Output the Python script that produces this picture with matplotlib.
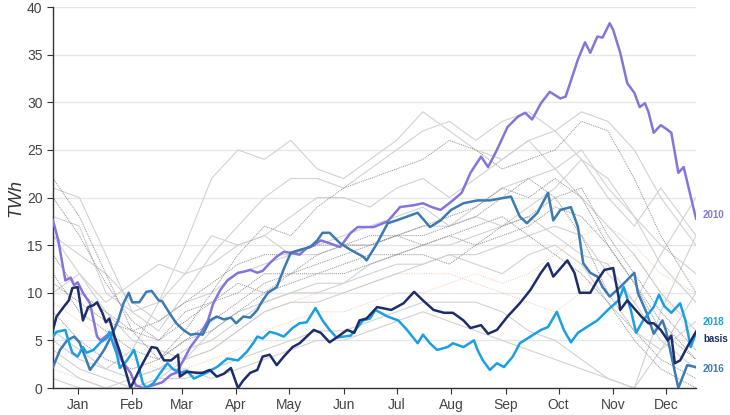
import matplotlib
matplotlib.use("Agg")
import matplotlib.pyplot as plt
import numpy as np

plt.rcParams['font.family'] = ['Liberation Sans', 'DejaVu Sans']

# months, tick on the 15th (day of year)
months = ['Jan', 'Feb', 'Mar', 'Apr', 'May', 'Jun', 'Jul', 'Aug', 'Sep', 'Oct', 'Nov', 'Dec']
month_days = [14, 45, 73, 104, 134, 165, 195, 226, 257, 287, 318, 348]

# highlighted years (day of year, TWh)
d2010 = [0, 3, 5, 7, 10, 12, 14, 17, 21, 25, 27, 31, 34, 36, 39, 44, 47, 51, 57, 62,
         67, 70, 74, 78, 84, 88, 91, 95, 99, 105, 108, 112, 116, 119, 123, 127, 131, 135, 140, 144,
         148, 152, 157, 163, 169, 173, 182, 190, 197, 205, 210, 215, 220, 227, 232, 237, 243, 247, 252, 258,
         264, 268, 272, 277, 282, 288, 291, 298, 302, 305, 309, 312, 316, 318, 322, 326, 330, 333, 336, 338,
         341, 345, 349, 351, 355, 358, 365]
v2010 = [17.6, 15.5, 13.4, 11.3, 11.6, 10.8, 11.1, 10.0, 8.9, 5.4, 5.0, 5.6, 5.9, 4.3, 2.9, 1.6, 0.3, 0.0, 0.3, 0.6,
         1.4, 1.6, 2.9, 4.3, 5.8, 7.1, 8.9, 10.3, 11.3, 12.1, 12.2, 12.4, 12.1, 12.3, 13.1, 13.8, 14.3, 14.2, 14.0, 14.7,
         15.0, 15.5, 15.2, 14.8, 16.3, 16.9, 16.9, 17.5, 19.0, 19.2, 19.4, 19.0, 18.7, 19.7, 20.5, 22.6, 24.3, 23.2, 25.0, 27.4,
         28.5, 28.9, 28.2, 29.9, 31.1, 30.4, 30.6, 34.5, 36.3, 35.2, 36.9, 36.8, 38.3, 37.6, 35.2, 32.0, 31.0, 29.5, 29.9, 29.0,
         26.8, 27.6, 27.1, 26.8, 22.6, 23.2, 17.8]

d2016 = [0, 4, 8, 12, 15, 19, 21, 25, 29, 33, 37, 40, 43, 45, 49, 53, 56, 60, 62, 66,
         70, 74, 78, 82, 85, 89, 93, 97, 101, 104, 108, 112, 116, 118, 122, 127, 131, 135, 140, 146,
         150, 153, 157, 163, 169, 176, 178, 184, 190, 195, 201, 207, 214, 220, 226, 233, 241, 248, 260, 265,
         269, 275, 281, 284, 288, 294, 298, 301, 305, 309, 312, 316, 322, 330, 332, 337, 341, 346, 348, 355,
         360, 365]
v2016 = [2.2, 4.0, 5.0, 5.4, 4.8, 2.9, 1.9, 2.9, 4.0, 5.4, 7.1, 8.9, 10.0, 9.0, 9.0, 10.1, 10.2, 9.2, 9.1, 7.9,
         6.8, 6.1, 5.6, 5.7, 5.6, 7.1, 7.5, 7.2, 7.4, 6.8, 7.5, 7.4, 8.2, 8.9, 10.0, 10.6, 12.5, 14.2, 14.5, 14.8,
         15.5, 16.3, 16.3, 15.2, 14.5, 13.8, 13.4, 15.2, 17.3, 17.6, 18.0, 18.4, 16.9, 17.6, 18.7, 19.4, 19.7, 19.7, 20.1, 18.0,
         17.3, 18.4, 20.5, 17.6, 18.7, 19.0, 16.9, 13.1, 12.1, 11.7, 10.6, 9.6, 10.6, 12.1, 10.0, 7.9, 5.7, 7.1, 6.0, 0.0,
         2.4, 2.2]

d_basis = [0, 2, 6, 9, 11, 14, 17, 20, 23, 25, 28, 30, 32, 35, 38, 41, 44, 49, 53, 56,
           59, 63, 67, 71, 72, 76, 82, 85, 89, 93, 97, 101, 105, 108, 112, 116, 119, 123, 127, 131,
           136, 140, 144, 148, 152, 157, 161, 167, 171, 174, 178, 184, 192, 199, 205, 210, 216, 222, 227, 233,
           237, 243, 247, 252, 258, 265, 271, 277, 281, 284, 292, 296, 299, 305, 309, 313, 318, 321, 322, 326,
           334, 338, 341, 345, 349, 351, 353, 356, 360, 365]
v_basis = [6.1, 7.5, 8.5, 9.2, 10.5, 10.6, 7.1, 8.5, 8.7, 9.0, 7.9, 6.9, 7.3, 5.4, 3.8, 1.9, 0.0, 1.9, 3.3, 4.3,
           4.2, 2.9, 2.9, 3.5, 1.2, 1.7, 1.6, 1.6, 1.9, 1.2, 1.5, 2.1, 0.0, 0.8, 1.6, 1.9, 3.3, 3.5, 2.4, 3.3,
           4.3, 4.7, 5.4, 6.1, 5.8, 4.8, 5.3, 6.1, 5.8, 7.1, 7.3, 8.5, 8.2, 8.9, 10.1, 9.2, 8.2, 7.9, 7.9, 7.1,
           6.3, 6.6, 5.7, 6.1, 7.5, 8.9, 10.3, 12.1, 13.1, 11.7, 13.4, 12.1, 10.0, 10.0, 11.3, 12.4, 12.6, 9.6, 8.2, 9.2,
           7.5, 6.8, 6.8, 6.1, 5.0, 5.5, 2.6, 2.9, 4.3, 5.9]

d2018 = [0, 2, 7, 9, 11, 14, 17, 19, 23, 27, 31, 32, 34, 36, 38, 42, 46, 48, 51, 53,
         57, 61, 65, 68, 72, 76, 80, 86, 93, 99, 105, 110, 114, 116, 119, 123, 127, 131, 136, 140,
         144, 149, 153, 157, 161, 165, 169, 173, 176, 180, 183, 190, 196, 201, 207, 210, 214, 218, 224, 227,
         233, 239, 241, 244, 248, 252, 256, 261, 265, 271, 277, 281, 286, 290, 294, 298, 303, 309, 315, 321,
         324, 328, 331, 335, 341, 344, 347, 351, 356, 359, 362, 365]
v2018 = [5.4, 5.9, 6.1, 4.8, 3.7, 3.3, 4.3, 3.7, 4.0, 4.8, 5.3, 5.9, 4.7, 3.7, 2.1, 2.9, 4.0, 2.7, 0.5, 0.0,
         0.5, 1.6, 2.6, 2.0, 1.6, 1.8, 1.0, 1.5, 2.2, 3.1, 2.9, 3.8, 4.8, 5.4, 5.2, 5.9, 5.7, 5.4, 6.3, 6.8,
         6.9, 8.4, 7.1, 6.1, 5.3, 5.4, 5.5, 6.4, 7.1, 7.3, 8.2, 7.5, 7.1, 6.1, 4.7, 5.6, 4.7, 4.0, 4.3, 4.7,
         4.3, 5.0, 4.0, 2.9, 1.9, 2.6, 2.2, 3.3, 4.7, 5.4, 6.1, 6.4, 8.0, 6.1, 4.8, 5.8, 6.4, 7.1, 8.2, 9.2,
         10.6, 8.2, 5.8, 7.1, 8.5, 9.8, 8.6, 7.9, 8.9, 7.1, 4.3, 5.8]

# other years, sampled every half month
grid_days = [0, 15, 30, 45, 60, 75, 90, 105, 120, 135, 150, 165, 180, 195, 210, 225, 240, 255, 270, 285, 300, 315, 330, 345, 365]
other_solid = [
    [5, 3, 2, 4, 9, 15, 22, 25, 24, 26, 23, 22, 24, 26, 29, 27, 25, 24, 26, 23, 20, 17, 14, 10, 6],
    [21, 20, 14, 8, 6, 10, 14, 17, 20, 22, 22, 21, 23, 25, 27, 28, 26, 28, 29, 27, 29, 28, 25, 20, 15],
    [18, 17, 10, 8, 9, 12, 13, 15, 16, 18, 20, 20, 19, 21, 22, 20, 22, 24, 26, 27, 24, 20, 17, 21, 16],
    [16, 12, 9, 11, 13, 12, 16, 15, 16, 14, 15, 16, 17, 18, 19, 17, 19, 21, 22, 23, 25, 21, 18, 15, 12],
    [10, 12, 8, 5, 4, 3, 6, 8, 9, 10, 11, 11, 13, 14, 15, 15, 16, 17, 19, 21, 24, 22, 18, 13, 9],
    [6, 4, 2, 1, 2, 4, 5, 7, 9, 10, 10, 11, 12, 13, 13, 14, 14, 15, 16, 17, 16, 12, 9, 5, 2],
    [4, 2, 1, 0, 1, 3, 4, 6, 8, 9, 9, 10, 11, 12, 13, 14, 13, 12, 14, 15, 13, 9, 6, 4, 7],
    [3, 1, 0, 0, 1, 1, 2, 3, 4, 5, 6, 6, 7, 8, 9, 9, 9, 8, 6, 5, 3, 1, 0, 4, 10],
    [1, 0, 0, 1, 2, 2, 1, 2, 3, 4, 5, 5, 6, 7, 8, 7, 6, 5, 4, 3, 2, 1, 0, 8, 16],
    [16, 14, 12, 9, 7, 9, 10, 12, 13, 14, 14, 15, 15, 16, 17, 17, 18, 17, 18, 16, 14, 13, 9, 14, 20],
]
other_dotted = [
    [22, 18, 12, 6, 3, 6, 10, 14, 17, 16, 19, 21, 22, 23, 24, 26, 25, 23, 24, 25, 28, 27, 22, 16, 10],
    [14, 10, 8, 6, 5, 8, 9, 10, 12, 12, 13, 14, 15, 16, 16, 17, 18, 20, 22, 20, 16, 10, 6, 3, 1],
    [12, 8, 6, 4, 3, 5, 7, 9, 11, 12, 12, 13, 14, 14, 15, 16, 15, 17, 18, 20, 21, 16, 12, 8, 4],
    [8, 5, 3, 2, 3, 5, 6, 8, 10, 11, 12, 12, 13, 14, 14, 13, 15, 16, 17, 19, 18, 15, 11, 7, 3],
    [20, 16, 11, 7, 5, 7, 9, 11, 10, 12, 14, 15, 16, 16, 15, 16, 17, 18, 16, 14, 12, 9, 5, 2, 0],
    [11, 9, 7, 6, 7, 9, 11, 13, 14, 14, 15, 15, 15, 16, 17, 18, 19, 21, 20, 22, 20, 15, 11, 6, 3],
]
other_orange = [
    [2, 1, 0, 0, 0, 2, 3, 4, 6, 7, 8, 8, 9, 10, 10, 11, 12, 11, 12, 14, 16, 17, 15, 12, 10],
    [9, 7, 5, 3, 2, 3, 4, 6, 8, 9, 10, 10, 11, 12, 12, 12, 11, 10, 9, 8, 10, 13, 14, 10, 5],
]

fig = plt.figure(figsize=(7.3, 4.15), dpi=100)
ax = fig.add_axes([0.0726, 0.065, 0.8808, 0.918])

for vals in other_solid:
    ax.plot(grid_days, vals, color='#d2d2d2', lw=0.8, zorder=2)
for vals in other_dotted:
    ax.plot(grid_days, vals, color='#8f8f8f', lw=0.7, ls=(0, (1, 1)), zorder=2)
for vals in other_orange:
    ax.plot(grid_days, vals, color='#e8a47c', lw=0.7, ls=(0, (1, 1.5)), alpha=0.6, zorder=2)

highlight = [
    ('2010', d2010, v2010, '#8674db', 18.2),
    ('2016', d2016, v2016, '#3b7ab3', 2.0),
    ('2018', d2018, v2018, '#1b9fe4', 6.9),
    ('basis', d_basis, v_basis, '#1d2d6c', 5.1),
]
for name, d, v, c, ly in highlight:
    ax.plot(d, v, color=c, lw=1.8, zorder=4)
    ax.text(369, ly, name, color=c, fontsize=7, fontweight='bold',
            va='center', ha='left', clip_on=False)

ax.set_xlim(0, 365)
ax.set_ylim(0, 40)
ax.set_yticks(np.arange(0, 41, 5))
ax.set_xticks(month_days)
ax.set_xticklabels(months)
ax.grid(axis='y', color='#e6e6e6', lw=1, zorder=0)
ax.set_axisbelow(True)

for s in ['top', 'right']:
    ax.spines[s].set_visible(False)
for s in ['left', 'bottom']:
    ax.spines[s].set_color('#333333')
    ax.spines[s].set_linewidth(1)
ax.tick_params(axis='both', colors='#333333', labelcolor='#444444', labelsize=10, length=4, width=0.8)
ax.set_ylabel('TWh', fontsize=13, fontstyle='italic', color='#333333', labelpad=2)

fig.savefig('out.png', dpi=100)
